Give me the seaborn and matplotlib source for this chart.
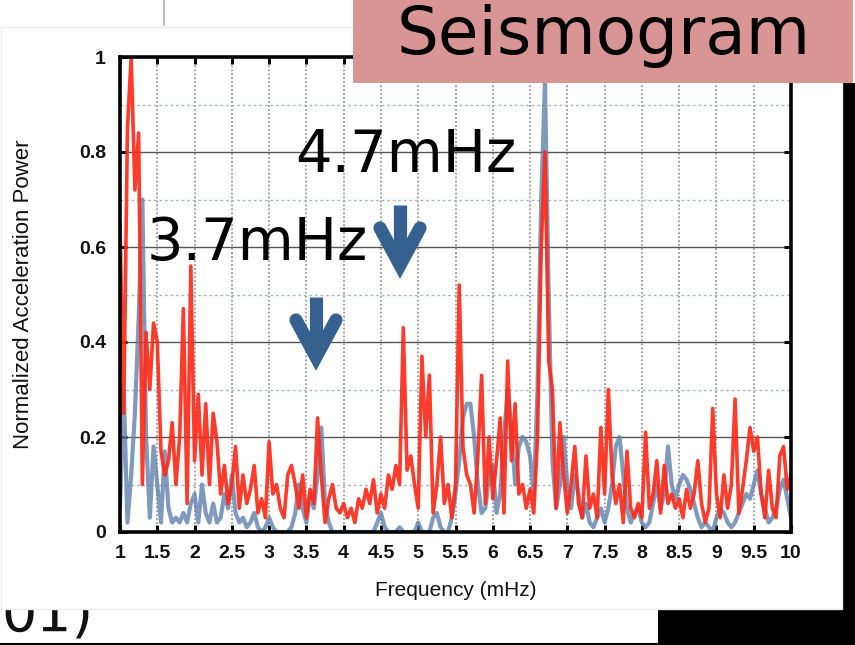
import numpy as np
import pandas as pd
import matplotlib
matplotlib.use("Agg")
import matplotlib.pyplot as plt
import seaborn as sns
from matplotlib.patches import Rectangle
from matplotlib.lines import Line2D

# ---------------- data ----------------
freq_start, freq_stop, freq_count = 1.0, 10.0, 181   # 0.05 mHz sampling

red_power = [
    0.65, 0.25, 0.85, 1.00, 0.72, 0.84, 0.10, 0.42, 0.30, 0.44,
    0.40, 0.17, 0.12, 0.15, 0.23, 0.10, 0.20, 0.47, 0.06, 0.56,
    0.15, 0.29, 0.12, 0.27, 0.10, 0.25, 0.19, 0.08, 0.14, 0.06,
    0.10, 0.18, 0.05, 0.12, 0.06, 0.09, 0.14, 0.04, 0.07, 0.03,
    0.19, 0.08, 0.10, 0.05, 0.03, 0.12, 0.14, 0.10, 0.05, 0.12,
    0.03, 0.09, 0.06, 0.24, 0.12, 0.02, 0.07, 0.10, 0.05, 0.04,
    0.06, 0.03, 0.05, 0.02, 0.07, 0.05, 0.09, 0.06, 0.11, 0.04,
    0.08, 0.05, 0.12, 0.09, 0.14, 0.10, 0.43, 0.13, 0.16, 0.10,
    0.05, 0.37, 0.20, 0.33, 0.04, 0.10, 0.20, 0.06, 0.10, 0.03,
    0.10, 0.52, 0.18, 0.12, 0.10, 0.04, 0.16, 0.33, 0.06, 0.20,
    0.07, 0.15, 0.24, 0.04, 0.36, 0.15, 0.27, 0.08, 0.10, 0.05,
    0.09, 0.04, 0.20, 0.60, 0.80, 0.36, 0.30, 0.05, 0.23, 0.12,
    0.04, 0.10, 0.18, 0.06, 0.03, 0.16, 0.05, 0.08, 0.03, 0.22,
    0.08, 0.30, 0.12, 0.06, 0.10, 0.02, 0.17, 0.05, 0.03, 0.06,
    0.03, 0.21, 0.05, 0.08, 0.15, 0.04, 0.14, 0.06, 0.08, 0.05,
    0.07, 0.03, 0.09, 0.05, 0.08, 0.15, 0.06, 0.02, 0.05, 0.26,
    0.08, 0.03, 0.12, 0.05, 0.10, 0.28, 0.04, 0.09, 0.15, 0.22,
    0.17, 0.20, 0.08, 0.03, 0.13, 0.05, 0.03, 0.16, 0.18, 0.09,
    0.12,
]

blue_power = [
    0.05, 0.30, 0.02, 0.12, 0.25, 0.45, 0.70, 0.20, 0.03, 0.18,
    0.10, 0.02, 0.17, 0.05, 0.02, 0.03, 0.02, 0.04, 0.02, 0.06,
    0.08, 0.02, 0.10, 0.04, 0.02, 0.06, 0.02, 0.03, 0.08, 0.05,
    0.12, 0.04, 0.02, 0.03, 0.01, 0.02, 0.04, 0.01, 0.00, 0.01,
    0.03, 0.01, 0.00, 0.00, 0.00, 0.00, 0.01, 0.04, 0.10, 0.05,
    0.02, 0.08, 0.05, 0.12, 0.22, 0.06, 0.02, 0.00, 0.00, 0.00,
    0.00, 0.00, 0.00, 0.00, 0.00, 0.00, 0.00, 0.00, 0.00, 0.02,
    0.04, 0.01, 0.00, 0.00, 0.00, 0.01, 0.00, 0.00, 0.00, 0.00,
    0.02, 0.00, 0.00, 0.00, 0.03, 0.04, 0.01, 0.00, 0.00, 0.03,
    0.08, 0.15, 0.24, 0.27, 0.27, 0.20, 0.10, 0.04, 0.05, 0.12,
    0.14, 0.04, 0.08, 0.20, 0.30, 0.22, 0.10, 0.18, 0.20, 0.19,
    0.16, 0.08, 0.30, 0.70, 0.95, 0.50, 0.15, 0.05, 0.10, 0.20,
    0.10, 0.05, 0.12, 0.08, 0.03, 0.06, 0.02, 0.01, 0.03, 0.05,
    0.02, 0.05, 0.10, 0.18, 0.20, 0.12, 0.05, 0.02, 0.04, 0.05,
    0.02, 0.01, 0.02, 0.06, 0.10, 0.05, 0.08, 0.18, 0.10, 0.07,
    0.10, 0.12, 0.11, 0.09, 0.06, 0.03, 0.01, 0.02, 0.01, 0.00,
    0.03, 0.05, 0.04, 0.02, 0.01, 0.02, 0.04, 0.06, 0.08, 0.07,
    0.10, 0.13, 0.08, 0.05, 0.02, 0.03, 0.05, 0.09, 0.11, 0.07,
    0.03,
]

x_ticks = [1, 1.5, 2, 2.5, 3, 3.5, 4, 4.5, 5, 5.5, 6, 6.5, 7, 7.5, 8, 8.5, 9, 9.5, 10]
x_tick_labels = ["1", "1.5", "2", "2.5", "3", "3.5", "4", "4.5", "5", "5.5",
                 "6", "6.5", "7", "7.5", "8", "8.5", "9", "9.5", "10"]
y_ticks = [0, 0.2, 0.4, 0.6, 0.8, 1.0]
y_tick_labels = ["0", "0.2", "0.4", "0.6", "0.8", "1"]
y_minor_ticks = [0.1, 0.3, 0.5, 0.7, 0.9]

x_label = "Frequency (mHz)"
y_label = "Normalized Acceleration Power"
title_text = "Seismogram"
annot_high = "4.7mHz"
annot_low = "3.7mHz"
footer_text = "01)"

# ---------------- figure ----------------
sns.set_theme(style="ticks")
plt.rcParams["font.family"] = ["Liberation Sans", "DejaVu Sans"]

W, H = 855, 645
fig = plt.figure(figsize=(W / 100, H / 100), dpi=100)
fig.patch.set_facecolor("white")


def fx(px):
    return px / W


def fy(py):
    return 1 - py / H


# background slide pieces
fig.add_artist(Rectangle((fx(658), fy(645)), fx(855 - 658), (645 - 609) / H,
                         transform=fig.transFigure, facecolor="black",
                         edgecolor="none", zorder=-5))
fig.add_artist(Rectangle((fx(842), fy(645)), fx(855 - 842), (645 - 83) / H,
                         transform=fig.transFigure, facecolor="black",
                         edgecolor="none", zorder=-5))
fig.add_artist(Line2D([fx(0), fx(658)], [fy(643.5), fy(643.5)],
                      transform=fig.transFigure, color="black", lw=1.5, zorder=-4))
fig.text(fx(1), fy(630), footer_text, fontsize=40, family="DejaVu Sans",
         color="#111111", ha="left", va="baseline", zorder=-4)
fig.add_artist(Rectangle((fx(1), fy(609)), fx(841), (609 - 27) / H,
                         transform=fig.transFigure, facecolor="white",
                         edgecolor="#ececec", lw=1, zorder=-2))
fig.add_artist(Line2D([fx(164), fx(164)], [fy(0), fy(25)],
                      transform=fig.transFigure, color="#bbbbbb", lw=1.5, zorder=-1))

# axes
ax = fig.add_axes([fx(120), fy(532), fx(791 - 120), (532 - 57) / H])
ax.set_facecolor("white")

freq = np.linspace(freq_start, freq_stop, freq_count)
df = pd.DataFrame({"freq": freq, "red": red_power, "blue": blue_power})

sns.lineplot(data=df, x="freq", y="blue", ax=ax, color="#5f81ad", lw=3.0,
             alpha=0.8, zorder=3)
sns.lineplot(data=df, x="freq", y="red", ax=ax, color="#ff2a1a", lw=2.6,
             alpha=0.92, zorder=4)

ax.set_xlim(1, 10)
ax.set_ylim(0, 1)
ax.set_xticks(x_ticks)
ax.set_xticklabels(x_tick_labels)
ax.set_yticks(y_ticks)
ax.set_yticklabels(y_tick_labels)
ax.set_yticks(y_minor_ticks, minor=True)

ax.grid(axis="y", which="major", color="#555555", lw=1.0, ls="-", zorder=1)
ax.grid(axis="y", which="minor", color="#a9b6cc", lw=1.0, ls=(0, (2, 2)), zorder=1)
ax.grid(axis="x", which="major", color="#9a9a9a", lw=1.3, ls=(0, (1, 1.2)), zorder=1)
ax.set_axisbelow(True)

for s in ax.spines.values():
    s.set_visible(True)
    s.set_linewidth(2.6)
    s.set_color("black")
    s.set_zorder(6)

ax.tick_params(axis="both", which="major", direction="in", length=5, width=2.2,
               top=True, right=True, color="black")
ax.tick_params(axis="y", which="minor", length=0)
ax.tick_params(axis="x", which="major", pad=9)
ax.tick_params(axis="y", which="major", pad=10)
for lab in ax.get_xticklabels() + ax.get_yticklabels():
    lab.set_fontsize(14)
    lab.set_fontweight("bold")
    lab.set_color("#111111")

ax.set_xlabel(x_label, fontsize=15, color="#111111")
ax.set_ylabel(y_label, fontsize=16, color="#111111")
ax.xaxis.set_label_coords(0.5, -0.103)
ax.yaxis.set_label_coords(-0.128, 0.5)

# title box
fig.add_artist(Rectangle((fx(353), fy(83)), fx(853 - 353), 83 / H,
                         transform=fig.transFigure, facecolor="#d99594",
                         edgecolor="none", zorder=8))
fig.text(fx(397), fy(54), title_text, fontsize=47.5, family="DejaVu Sans",
         fontweight="normal", color="black", ha="left", va="baseline", zorder=9)

# annotations
fig.text(fx(406), fy(172), annot_high, fontsize=41.5, family="DejaVu Sans",
         fontweight="normal", color="black", ha="center", va="baseline", zorder=9)
fig.text(fx(257), fy(260), annot_low, fontsize=41.5, family="DejaVu Sans",
         fontweight="normal", color="black", ha="center", va="baseline", zorder=9)

arrow_color = "#36608f"
for cx, top, vert, wing in [(400, 205, 265, 228), (316, 297, 357, 320)]:
    fig.add_artist(Line2D([fx(cx), fx(cx)], [fy(top), fy(vert - 2)],
                          transform=fig.transFigure, color=arrow_color, lw=9.5,
                          solid_capstyle="butt", zorder=9))
    fig.add_artist(Line2D([fx(cx - 20), fx(cx), fx(cx + 20)],
                          [fy(wing), fy(vert), fy(wing)],
                          transform=fig.transFigure, color=arrow_color, lw=9.5,
                          solid_capstyle="round", solid_joinstyle="miter", zorder=9))

fig.savefig("out.png", dpi=100)
